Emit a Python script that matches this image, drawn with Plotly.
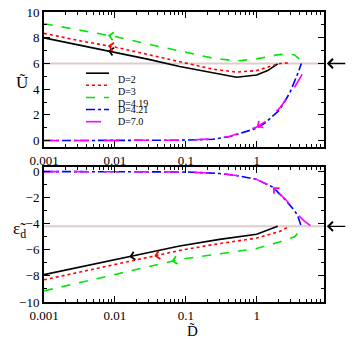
import numpy as np
import plotly.graph_objects as go
from plotly.subplots import make_subplots

# legend labels and colours of the five runs
labels = ["D=2", "D=3", "D=4.19", "D=4.21", "D=7.0"]
colors = ["black", "red", "rgb(0,230,0)", "blue", "magenta"]
dashes = ["solid", "dot", "dash", "dashdot", "longdash"]

# top panel: U tilde vs D tilde
u_x = [
    [0.001, 0.003, 0.01, 0.03, 0.082, 0.24, 0.52, 1.0, 1.43, 1.98],
    [0.001, 0.003, 0.01, 0.03, 0.082, 0.24, 0.52, 1.0, 1.52, 2.0, 2.5, 2.9],
    [0.001, 0.003, 0.01, 0.03, 0.082, 0.24, 0.52, 1.0, 1.93, 2.62, 3.43, 4.12, 4.27],
    [0.001, 0.01, 0.082, 0.24, 0.42, 1.0, 1.3, 2.11, 2.92, 3.82, 4.27],
    [0.001, 0.01, 0.082, 0.24, 0.42, 1.0, 1.3, 2.11, 3.25, 4.49, 5.9],
]
u_y = [
    [8.0, 7.45, 6.9, 6.32, 5.76, 5.25, 4.93, 5.1, 5.45, 5.97],
    [8.35, 7.8, 7.28, 6.68, 6.1, 5.56, 5.33, 5.45, 5.76, 5.97, 6.05, 6.0],
    [9.1, 8.6, 8.1, 7.5, 6.98, 6.42, 6.2, 6.36, 6.67, 6.75, 6.67, 6.28, 5.97],
    [0.0, 0.0, 0.03, 0.1, 0.31, 0.96, 1.35, 2.39, 3.69, 5.25, 6.0],
    [0.0, 0.0, 0.03, 0.12, 0.33, 1.05, 1.45, 2.52, 3.95, 5.25, 6.0],
]

# bottom panel: eps_d tilde vs D tilde
e_x = [
    [0.001, 0.01, 0.082, 0.3, 1.0, 1.98],
    [0.001, 0.01, 0.082, 0.24, 1.0, 2.1, 2.9],
    [0.001, 0.01, 0.082, 0.42, 1.0, 2.1, 3.43, 4.0, 4.25],
    [0.001, 0.1, 0.3, 0.52, 1.0, 1.7, 2.62, 3.43, 3.8, 4.1, 4.25],
    [0.001, 0.1, 0.3, 0.52, 1.0, 1.7, 2.62, 3.43, 4.49, 5.9],
]
e_y = [
    [-7.9, -6.78, -5.7, -5.2, -4.8, -4.2],
    [-8.3, -7.15, -6.05, -5.6, -5.1, -4.6, -4.2],
    [-9.15, -7.9, -6.74, -6.2, -5.9, -5.4, -5.0, -4.6, -4.2],
    [0.0, -0.03, -0.15, -0.3, -0.6, -1.2, -2.25, -3.0, -3.4, -3.9, -4.2],
    [0.0, -0.03, -0.15, -0.3, -0.6, -1.2, -2.2, -3.0, -3.7, -4.2],
]

# fixed point marked by the arrows on the right
u_star = 6.0
e_star = -4.2

# where the direction arrows sit on each curve (None = no arrow)
arrow_u = [0.008, 0.008, 0.008, None, 1.0]
arrow_e = [0.016, 0.036, 0.063, None, 1.7]

FONT = "Liberation Serif"

fig = make_subplots(rows=2, cols=1)

for i in range(5):
    fig.add_trace(go.Scatter(x=u_x[i], y=u_y[i], mode="lines", name=labels[i],
                             line=dict(color=colors[i], dash=dashes[i], width=1.6)),
                  row=1, col=1)
    fig.add_trace(go.Scatter(x=e_x[i], y=e_y[i], mode="lines", name=labels[i],
                             showlegend=False,
                             line=dict(color=colors[i], dash=dashes[i], width=1.6)),
                  row=2, col=1)


def add_arrow(xs, ys, xh, xr, yr, color):
    lx = np.log10(xs)
    hx = np.log10(xh)
    tx = hx + 0.06
    hy = np.interp(hx, lx, ys)
    ty = np.interp(tx, lx, ys)
    fig.add_annotation(x=hx, y=hy, ax=tx, ay=ty, xref=xr, yref=yr, axref=xr, ayref=yr,
                       text="", showarrow=True, arrowhead=4, arrowsize=1.3,
                       arrowwidth=1.2, arrowcolor=color)


for i in range(5):
    if arrow_u[i]:
        add_arrow(u_x[i], u_y[i], arrow_u[i], "x", "y", colors[i])
    if arrow_e[i]:
        add_arrow(e_x[i], e_y[i], arrow_e[i], "x2", "y2", colors[i])

# reference lines at the fixed point
fig.add_hline(y=u_star, line=dict(color="rgb(222,204,204)", width=2), layer="below", row=1, col=1)
fig.add_hline(y=e_star, line=dict(color="rgb(222,204,204)", width=2), layer="below", row=2, col=1)

# black arrows outside the frame
for yv, yr in [(u_star, "y"), (e_star, "y2")]:
    fig.add_annotation(x=1.01, y=yv, xref="paper", yref=yr, ax=20, ay=0, text="",
                       showarrow=True, arrowhead=4, arrowsize=1.3, arrowwidth=1.4,
                       arrowcolor="black")

xaxis_style = dict(type="log", range=[-3, 0.95], automargin=False,
                   tickvals=[0.001, 0.01, 0.1, 1], ticktext=["0.001", "0.01", "0.1", "1"],
                   ticks="inside", ticklen=6, tickwidth=1.3, tickcolor="black",
                   minor=dict(ticks="inside", ticklen=3, dtick="D1", tickcolor="black", tickwidth=1),
                   showline=True, linewidth=2, linecolor="black", mirror="ticks",
                   showgrid=False, zeroline=False,
                   tickfont=dict(family=FONT, size=13, color="black"))
yaxis_style = dict(ticks="inside", ticklen=6, tickwidth=1.3, tickcolor="black", automargin=False,
                   minor=dict(ticks="inside", ticklen=3, dtick=1, tickcolor="black", tickwidth=1),
                   showline=True, linewidth=2, linecolor="black", mirror="ticks",
                   showgrid=False, zeroline=False,
                   tickfont=dict(family=FONT, size=13, color="black"))

fig.update_xaxes(**xaxis_style)
fig.update_yaxes(**yaxis_style)
fig.update_layout(
    xaxis=dict(domain=[0, 1]), xaxis2=dict(domain=[0, 1]),
    yaxis=dict(domain=[0.5345, 1], range=[-0.5, 10.01], tickvals=[0, 2, 4, 6, 8, 10]),
    yaxis2=dict(domain=[0, 0.4655], range=[-10, 0.35], tickvals=[-10, -8, -6, -4, -2, 0]),
)

# axis titles
fig.add_annotation(x=-0.107, y=0.795, xref="paper", yref="paper", text="Ũ", showarrow=False,
                   font=dict(family=FONT, size=17, color="black"))
fig.add_annotation(x=-0.118, y=0.205, xref="paper", yref="paper", text="ε̃<sub>d</sub>",
                   showarrow=False, font=dict(family=FONT, size=17, color="black"))
fig.add_annotation(x=0.529, y=-0.135, xref="paper", yref="paper", text="D̃", showarrow=False,
                   font=dict(family=FONT, size=15, color="black"))

# hand-made legend (compact rows)
for i in range(5):
    ly = 0.789 - i * 0.0418
    fig.add_shape(type="line", xref="paper", yref="paper", x0=0.15, x1=0.232, y0=ly, y1=ly,
                  line=dict(color=colors[i], dash=dashes[i], width=1.6))
    fig.add_annotation(x=0.262, y=ly, xref="paper", yref="paper", text=labels[i],
                       showarrow=False, xanchor="left", borderpad=0,
                       font=dict(family=FONT, size=10, color="black"))

fig.update_layout(width=358, height=346, showlegend=False,
                  margin=dict(l=44, r=34, t=12, b=44),
                  paper_bgcolor="white", plot_bgcolor="white")

# drop the browser's default 8px body margin so the figure sits at the page corner
fig.write_html("out.html", config={"displayModeBar": False},
               post_script="document.body.style.margin='0';")
